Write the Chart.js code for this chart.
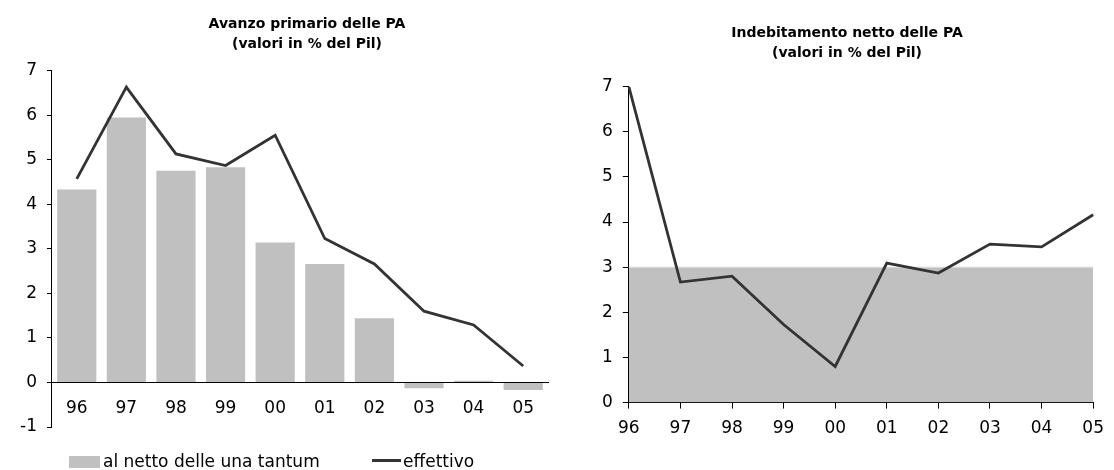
<!DOCTYPE html>
<html>
<head>
<meta charset="utf-8">
<script src="https://cdn.jsdelivr.net/npm/chart.js@4"></script>
<style>
html,body{margin:0;padding:0;background:#fff;width:1114px;height:470px;overflow:hidden;font-family:'DejaVu Sans',sans-serif;}
canvas{position:absolute;top:0;}
#c1{left:0;}
#c2{left:546px;}
.leg{position:absolute;font-size:17px;color:#000;line-height:20px;white-space:nowrap;}
.box{position:absolute;background:#c0c0c0;}
.lin{position:absolute;background:#333;}
</style>
</head>
<body>
<canvas id="c1" width="557" height="470"></canvas>
<canvas id="c2" width="568" height="470"></canvas>
<div class="box" style="left:69px;top:456px;width:31px;height:12px;"></div>
<div class="leg" id="leg1" style="left:103px;top:451px;"></div>
<div class="lin" style="left:372px;top:459px;width:29px;height:3px;"></div>
<div class="leg" id="leg2" style="left:403px;top:451px;"></div>
<script>
const anni = ['96','97','98','99','00','01','02','03','04','05'];
const avanzoNetto = [4.33, 5.95, 4.75, 4.83, 3.14, 2.66, 1.44, -0.13, 0.04, -0.17];
const avanzoEffettivo = [4.57, 6.63, 5.13, 4.87, 5.55, 3.23, 2.66, 1.60, 1.29, 0.37];
const indebitamento = [7.00, 2.67, 2.80, 1.73, 0.80, 3.09, 2.87, 3.51, 3.45, 4.16];
const soglia = [3, 3, 3, 3, 3, 3, 3, 3, 3, 3];
const titolo1 = ['Avanzo primario delle PA', '(valori in % del Pil)'];
const titolo2 = ['Indebitamento netto delle PA', '(valori in % del Pil)'];
const labelNetto = 'al netto delle una tantum';
const labelEffettivo = 'effettivo';

document.getElementById('leg1').textContent = labelNetto;
document.getElementById('leg2').textContent = labelEffettivo;

const FONT = 'DejaVu Sans';
const GRIGIO = '#c0c0c0';
const LINEA = '#333333';
Chart.defaults.font.family = FONT;
Chart.defaults.color = '#000';
Chart.defaults.animation = false;

// shifts the title block horizontally (title centred over the original chart frame)
const spostaTitolo = {
  id: 'spostaTitolo',
  afterLayout(chart, args, opts) {
    const t = chart.titleBlock;
    if (t && opts.dx) { t.left += opts.dx; t.right += opts.dx; }
  }
};

new Chart(document.getElementById('c1'), {
  type: 'bar',
  plugins: [spostaTitolo],
  data: {
    labels: anni,
    datasets: [
      { type: 'bar', label: labelNetto, data: avanzoNetto, backgroundColor: GRIGIO,
        barPercentage: 0.79, categoryPercentage: 1, order: 2 },
      { type: 'line', label: labelEffettivo, data: avanzoEffettivo, borderColor: LINEA,
        backgroundColor: LINEA, borderWidth: 2.8, pointRadius: 0, tension: 0,
        borderJoinStyle: 'miter', order: 1 }
    ]
  },
  options: {
    responsive: false,
    animation: false,
    layout: { padding: { left: 10, right: 9, top: 14, bottom: 43 } },
    plugins: {
      spostaTitolo: { dx: 28 },
      tooltip: { enabled: false },
      legend: { display: false },
      title: { display: true, text: titolo1, font: { size: 14, weight: 'bold', lineHeight: 1.45 },
               color: '#000', padding: { top: 0, bottom: 16 } }
    },
    scales: {
      x: {
        position: { y: 0 },
        offset: true,
        grid: { display: true, drawOnChartArea: false, drawTicks: true, tickLength: 8, color: 'rgba(0,0,0,0)' },
        border: { display: true, color: '#000', width: 1 },
        ticks: { font: { size: 17 }, color: '#000', padding: 8, maxRotation: 0, autoSkip: false }
      },
      y: {
        min: -1, max: 7,
        grid: { drawOnChartArea: false, drawTicks: true, tickLength: 5, color: '#000' },
        border: { display: true, color: '#000', width: 1 },
        ticks: { stepSize: 1, font: { size: 17 }, color: '#000', padding: 10 }
      }
    }
  }
});

new Chart(document.getElementById('c2'), {
  type: 'line',
  data: {
    labels: anni,
    datasets: [
      { label: 'Indebitamento', data: indebitamento, borderColor: LINEA, borderWidth: 2.8,
        pointRadius: 0, tension: 0, borderJoinStyle: 'miter', fill: false, order: 1 },
      { label: 'Soglia 3%', data: soglia, borderColor: '#dcdcdc', borderWidth: 1,
        backgroundColor: GRIGIO, pointRadius: 0, fill: 'origin', order: 2 }
    ]
  },
  options: {
    responsive: false,
    animation: false,
    layout: { padding: { left: 46, right: 12, top: 23, bottom: 21 } },
    plugins: {
      tooltip: { enabled: false },
      legend: { display: false },
      title: { display: true, text: titolo2, font: { size: 14, weight: 'bold', lineHeight: 1.45 },
               color: '#000', padding: { top: 0, bottom: 23 } }
    },
    scales: {
      x: {
        offset: false,
        grid: { drawOnChartArea: false, drawTicks: true, tickLength: 6, color: '#000' },
        border: { display: true, color: '#000', width: 1 },
        ticks: { font: { size: 17 }, color: '#000', padding: 10, maxRotation: 0, autoSkip: false }
      },
      y: {
        min: 0, max: 7,
        grid: { drawOnChartArea: false, drawTicks: true, tickLength: 6, color: '#000' },
        border: { display: true, color: '#000', width: 1 },
        ticks: { stepSize: 1, font: { size: 17 }, color: '#000', padding: 10 }
      }
    }
  }
});
</script>
</body>
</html>
